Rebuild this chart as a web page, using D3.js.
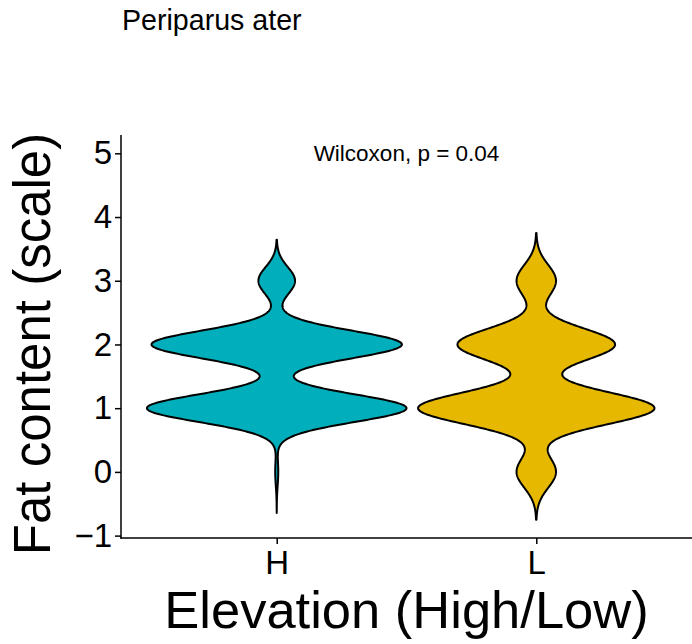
<!DOCTYPE html>
<html>
<head>
<meta charset="utf-8">
<script src="https://cdn.jsdelivr.net/npm/d3@7"></script>
<style>
  body { margin: 0; background: #ffffff; }
  svg text { font-family: "Liberation Sans", Arial, Helvetica, sans-serif; fill: #000; }
</style>
</head>
<body>
<svg id="chart" width="692" height="644"></svg>
<script>
// Fat score counts per elevation group (scores 0..3)
const groups = ["H", "L"];
const fatScores = [0, 1, 2, 3];
const countsH = [1, 85, 82, 12];
const countsL = [5, 30, 20, 5];
// Kernel bandwidths of the violin densities
const bandwidths = [0.215, 0.25];
const groupColors = ["#00AFBB", "#E7B800"];
const yTicks = [-1, 0, 1, 2, 3, 4, 5];
const titleText = "Periparus ater";
const xTitle = "Elevation (High/Low)";
const yTitle = "Fat content (scale)";
const testLabel = "Wilcoxon, p = 0.04";
const testLabelY = 5;

const W = 692, H = 644;
const margin = { top: 135, right: 0, bottom: 106, left: 121 };
const svg = d3.select("#chart");

// Gaussian kernel density over a grid extending 3 bandwidths past the data
function violinDensity(counts, bw) {
  const present = fatScores.filter((s, i) => counts[i] > 0);
  const lo = d3.min(present) - 3 * bw, hi = d3.max(present) + 3 * bw;
  const n = d3.sum(counts);
  const grid = d3.range(512).map(i => lo + (hi - lo) * i / 511);
  return grid.map(v => {
    let s = 0;
    fatScores.forEach((k, i) => {
      const z = (v - k) / bw;
      s += counts[i] * Math.exp(-0.5 * z * z);
    });
    return { v, d: s / (n * bw * Math.sqrt(2 * Math.PI)) };
  });
}

const allCounts = [countsH, countsL];
const violins = groups.map((g, i) => ({
  group: g,
  color: groupColors[i],
  pts: violinDensity(allCounts[i], bandwidths[i])
}));

// y domain covers the violins and the test label, with 5% expansion
const yLo = d3.min(violins, v => v.pts[0].v);
const yHi = Math.max(d3.max(violins, v => v.pts[v.pts.length - 1].v), testLabelY);
const pad = (yHi - yLo) * 0.05;

const x = d3.scalePoint().domain(groups)
  .range([margin.left, W - margin.right]).padding(0.6);
const y = d3.scaleLinear().domain([yLo - pad, yHi + pad])
  .range([H - margin.bottom, margin.top]);

const maxD = d3.max(violins, v => d3.max(v.pts, p => p.d));
const halfW = d3.scaleLinear().domain([0, maxD]).range([0, x.step() * 0.5]);

// violins
violins.forEach(v => {
  const cx = x(v.group);
  const area = d3.area()
    .y(p => y(p.v))
    .x0(p => cx - halfW(p.d))
    .x1(p => cx + halfW(p.d));
  svg.append("path")
    .datum(v.pts)
    .attr("d", area)
    .attr("fill", v.color)
    .attr("stroke", "#000")
    .attr("stroke-width", 2)
    .attr("stroke-linejoin", "round");
});

// axes
const yAxis = d3.axisLeft(y).tickValues(yTicks).tickSize(6).tickSizeOuter(0)
  .tickPadding(3).tickFormat(d3.format("d"));
const gy = svg.append("g").attr("transform", `translate(${margin.left},0)`).call(yAxis);
gy.selectAll("text").attr("font-size", 33).attr("fill", "#000");

const xAxis = d3.axisBottom(x).tickSize(6).tickSizeOuter(0).tickPadding(7);
const gx = svg.append("g").attr("transform", `translate(0,${H - margin.bottom})`).call(xAxis);
gx.selectAll("text").attr("font-size", 33).attr("fill", "#000");

[gx, gy].forEach(g => {
  g.select(".domain").attr("stroke", "#000").attr("stroke-width", 1.5);
  g.selectAll(".tick line").attr("stroke", "#000").attr("stroke-width", 1.5);
  g.selectAll("text").style("font-family", '"Liberation Sans", Arial, sans-serif');
});
// extend the axis lines so they meet at the corner
gy.select(".domain").attr("d", `M0,${y.range()[0] + 0.75}V${y.range()[1]}`);
gx.select(".domain").attr("d", `M${margin.left - 0.75},0H${W - margin.right}`);

// titles
svg.append("text").attr("x", 122).attr("y", 30)
  .attr("font-size", 28.6).text(titleText);

svg.append("text")
  .attr("x", (x.range()[0] + x.range()[1]) / 2)
  .attr("y", 628)
  .attr("text-anchor", "middle")
  .attr("font-size", 52.5)
  .text(xTitle);

svg.append("text")
  .attr("transform", `translate(50,344) rotate(-90)`)
  .attr("text-anchor", "middle")
  .attr("font-size", 51)
  .text(yTitle);

// test annotation
svg.append("text")
  .attr("x", (x.range()[0] + x.range()[1]) / 2)
  .attr("y", y(testLabelY))
  .attr("dy", "0.35em")
  .attr("text-anchor", "middle")
  .attr("font-size", 22.5)
  .text(testLabel);
</script>
</body>
</html>
